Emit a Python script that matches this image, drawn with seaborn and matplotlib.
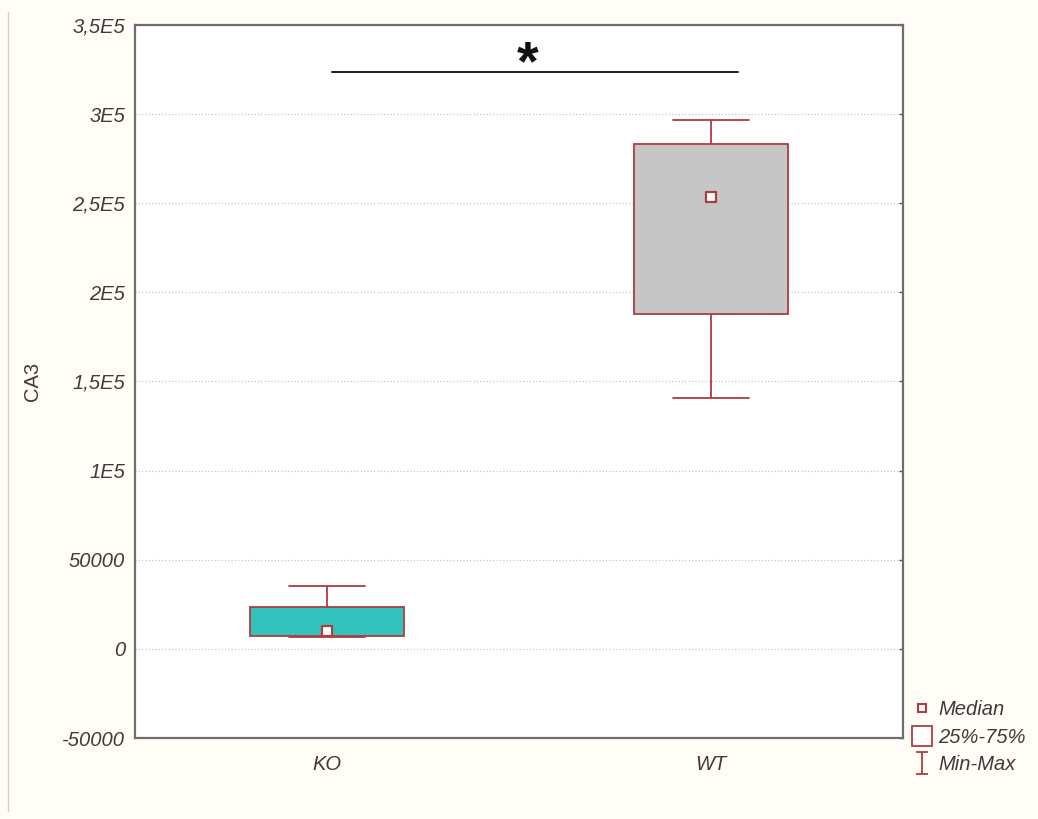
import numpy as np
import pandas as pd
import matplotlib
matplotlib.use("Agg")
import matplotlib.pyplot as plt
from matplotlib.lines import Line2D
from matplotlib.path import Path
import seaborn as sns

# ---- data (five-number summaries: min, Q1, median, Q3, max)
groups = ["KO", "WT"]
ko_values = [6500, 7500, 10000, 23500, 35000]
wt_values = [141000, 188000, 253500, 283500, 296500]
box_colors = ["#33c3bd", "#c6c6c6"]
ytick_values = [-50000, 0, 50000, 100000, 150000, 200000, 250000, 300000, 350000]
ytick_labels = ["-50000", "0", "50000", "1E5", "1,5E5", "2E5", "2,5E5", "3E5", "3,5E5"]
y_label = "CA3"
legend_labels = ["Median", "25%-75%", "Min-Max"]
sig_text = "*"
sig_y = 323700
sig_x = [0.013, 1.07]

df = pd.DataFrame({
    "group": ["KO"] * len(ko_values) + ["WT"] * len(wt_values),
    "value": ko_values + wt_values,
})
medians = df.groupby("group", sort=False)["value"].median().reset_index()

EDGE = "#b03c40"
TXT = "#3c3c3c"
BG = "#fffdf6"
FS = 14.5

sns.set_theme(style="white")
plt.rcParams["font.family"] = ["Liberation Sans", "DejaVu Sans"]

fig = plt.figure(figsize=(10.38, 8.19), dpi=100, facecolor=BG)
ax = fig.add_axes([0.130, 0.0989, 0.740, 0.8706])
ax.set_facecolor("white")

sns.boxplot(data=df, x="group", y="value", order=groups, hue="group",
            palette=box_colors, legend=False, whis=(0, 100), width=0.4,
            saturation=1, linecolor=EDGE, linewidth=1.3,
            medianprops=dict(visible=False), ax=ax)

sns.stripplot(data=medians, x="group", y="value", order=groups, jitter=False,
              marker="s", size=7, color="white", edgecolor=EDGE, linewidth=1.6,
              ax=ax, zorder=5)

ax.set_xlim(-0.5, 1.5)
ax.set_ylim(-50000, 350000)
ax.set_yticks(ytick_values)
ax.set_yticklabels(ytick_labels, fontstyle="italic", color=TXT, fontsize=FS)
ax.set_xticks([0, 1])
ax.set_xticklabels(groups, fontstyle="italic", color=TXT, fontsize=FS)
ax.set_xlabel("")
ax.set_ylabel(y_label, color=TXT, fontsize=FS)
ax.yaxis.set_label_coords(-0.121, 0.5)

ax.grid(axis="y", linestyle=":", color="#c8c8c8", linewidth=0.9)
ax.set_axisbelow(True)
for s in ax.spines.values():
    s.set_color("#6e6e6e")
    s.set_linewidth(1.6)
ax.tick_params(axis="both", direction="in", length=3, width=1, color="#555555",
               right=True)
ax.tick_params(axis="y", pad=7)
ax.tick_params(axis="x", pad=12)

# significance bar
ax.plot(sig_x, [sig_y, sig_y], color="#1a1a1a", linewidth=1.4)
ax.text(0.522, 319500, sig_text, ha="center", va="baseline",
        fontsize=40, fontweight="bold", color="#111111")

# legend
ibeam = Path([(-0.5, 1), (0.5, 1), (0, 1), (0, -1), (-0.5, -1), (0.5, -1)],
             [Path.MOVETO, Path.LINETO, Path.MOVETO, Path.LINETO, Path.MOVETO, Path.LINETO])
handles = [
    Line2D([], [], marker="s", linestyle="none", markersize=5.5,
           markerfacecolor="white", markeredgecolor=EDGE, markeredgewidth=1.5),
    Line2D([], [], marker="s", linestyle="none", markersize=14,
           markerfacecolor="white", markeredgecolor=EDGE, markeredgewidth=1.3),
    Line2D([], [], marker=ibeam, linestyle="none", markersize=16,
           markerfacecolor="none", markeredgecolor=EDGE, markeredgewidth=1.3),
]
leg = fig.legend(handles, legend_labels, loc="upper left",
                 bbox_to_anchor=(0.865, 1 - 686 / 819), frameon=False,
                 handlelength=1.0, handletextpad=0.3, labelspacing=0.42,
                 borderpad=0.2, prop=dict(style="italic", size=FS))
for t in leg.get_texts():
    t.set_color(TXT)

# thin left border of the screenshot
fig.add_artist(Line2D([8 / 1038, 8 / 1038], [0.01, 0.985], color="#d0d0d0",
                      linewidth=1, transform=fig.transFigure))

fig.savefig("out.png", dpi=100, facecolor=BG)
